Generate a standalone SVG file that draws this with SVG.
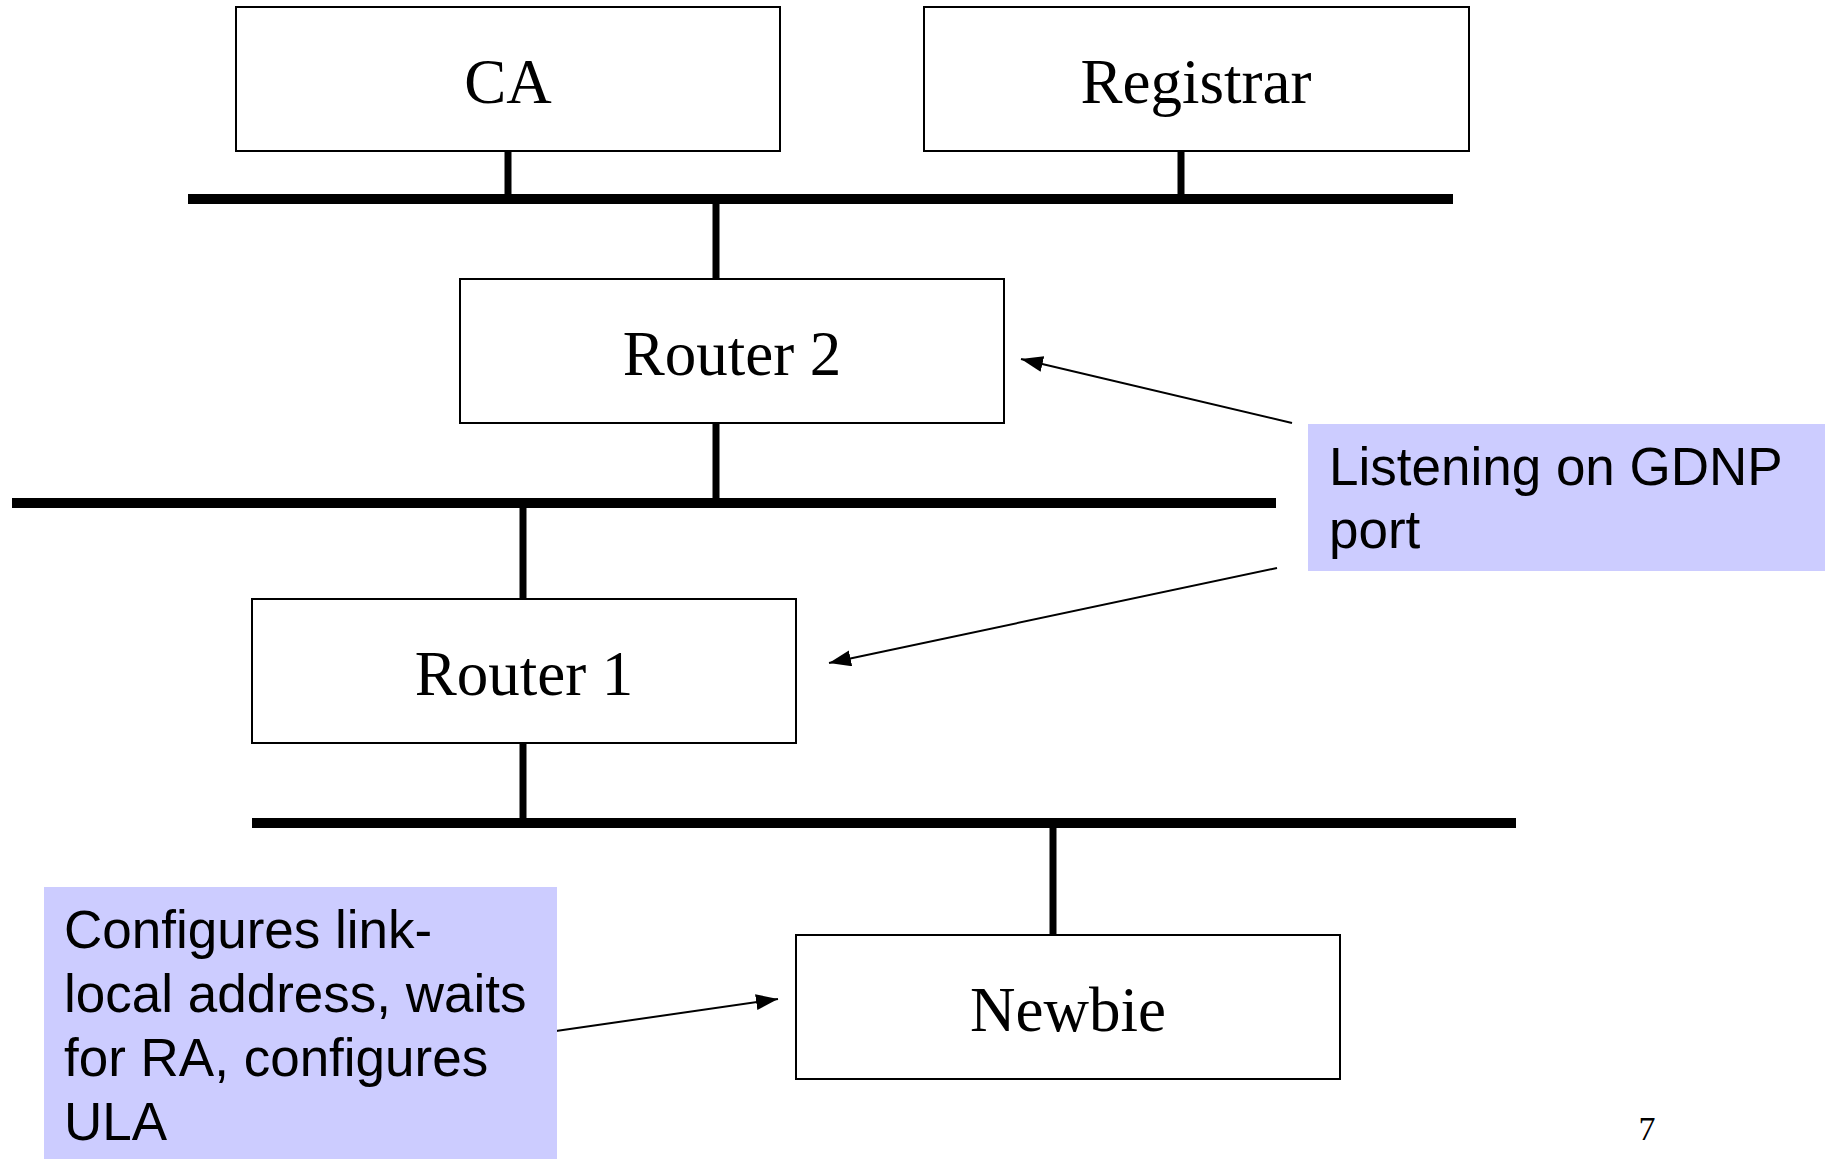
<svg xmlns="http://www.w3.org/2000/svg" width="1825" height="1159" viewBox="0 0 1825 1159">
  <style>
    .box { fill: #ffffff; stroke: #000000; stroke-width: 2; }
    .label { font-family: "Liberation Serif", "Times New Roman", serif; font-size: 63px; fill: #000000; text-anchor: middle; }
    .note { fill: #ccccff; stroke: none; }
    .note-text { font-family: "Liberation Sans", Arial, sans-serif; font-size: 53px; fill: #000000; }
    .bus { stroke: #000000; stroke-width: 10; stroke-linecap: butt; }
    .stem { stroke: #000000; stroke-width: 7; stroke-linecap: butt; }
    .pointer { stroke: #000000; stroke-width: 2; fill: none; marker-end: url(#arrow); }
    .page { font-family: "Liberation Serif", "Times New Roman", serif; font-size: 34px; fill: #000000; text-anchor: middle; }
  </style>
  <defs>
    <marker id="arrow" markerUnits="userSpaceOnUse" markerWidth="24" markerHeight="18" refX="22" refY="8" orient="auto">
      <path d="M0,0 L22,8 L0,16 Z" fill="#000000"/>
    </marker>
  </defs>

  <rect width="1825" height="1159" fill="#ffffff"/>

  <!-- network segments and drop lines -->
  <g id="connectors">
    <line class="bus" x1="188" y1="199" x2="1453" y2="199"/>
    <line class="bus" x1="12" y1="503" x2="1276" y2="503"/>
    <line class="bus" x1="252" y1="823" x2="1516" y2="823"/>

    <line class="stem" x1="508" y1="151" x2="508" y2="199"/>
    <line class="stem" x1="1181" y1="151" x2="1181" y2="199"/>
    <line class="stem" x1="716" y1="199" x2="716" y2="279"/>
    <line class="stem" x1="716" y1="423" x2="716" y2="503"/>
    <line class="stem" x1="523" y1="503" x2="523" y2="599"/>
    <line class="stem" x1="523" y1="743" x2="523" y2="823"/>
    <line class="stem" x1="1053" y1="823" x2="1053" y2="935"/>

    <line class="pointer" x1="1292" y1="423" x2="1021" y2="359"/>
    <line class="pointer" x1="1277" y1="568" x2="829" y2="663"/>
    <line class="pointer" x1="556" y1="1031" x2="778" y2="999"/>
  </g>

  <g id="ca">
    <rect class="box" x="236" y="7" width="544" height="144"/>
    <text class="label" x="508" y="103">CA</text>
  </g>

  <g id="registrar">
    <rect class="box" x="924" y="7" width="545" height="144"/>
    <text class="label" x="1196" y="103">Registrar</text>
  </g>

  <g id="router2">
    <rect class="box" x="460" y="279" width="544" height="144"/>
    <text class="label" x="732" y="375">Router 2</text>
  </g>

  <g id="router1">
    <rect class="box" x="252" y="599" width="544" height="144"/>
    <text class="label" x="524" y="695">Router 1</text>
  </g>

  <g id="newbie">
    <rect class="box" x="796" y="935" width="544" height="144"/>
    <text class="label" x="1068" y="1031">Newbie</text>
  </g>

  <g id="note-gdnp">
    <rect class="note" x="1308" y="424" width="517" height="147"/>
    <text class="note-text" x="1329" y="485">Listening on GDNP</text>
    <text class="note-text" x="1329" y="548">port</text>
  </g>

  <g id="note-newbie">
    <rect class="note" x="44" y="887" width="513" height="272"/>
    <text class="note-text" x="64" y="948">Configures link-</text>
    <text class="note-text" x="64" y="1012">local address, waits</text>
    <text class="note-text" x="64" y="1076">for RA, configures</text>
    <text class="note-text" x="64" y="1140">ULA</text>
  </g>

  <text class="page" x="1647" y="1140">7</text>
</svg>
